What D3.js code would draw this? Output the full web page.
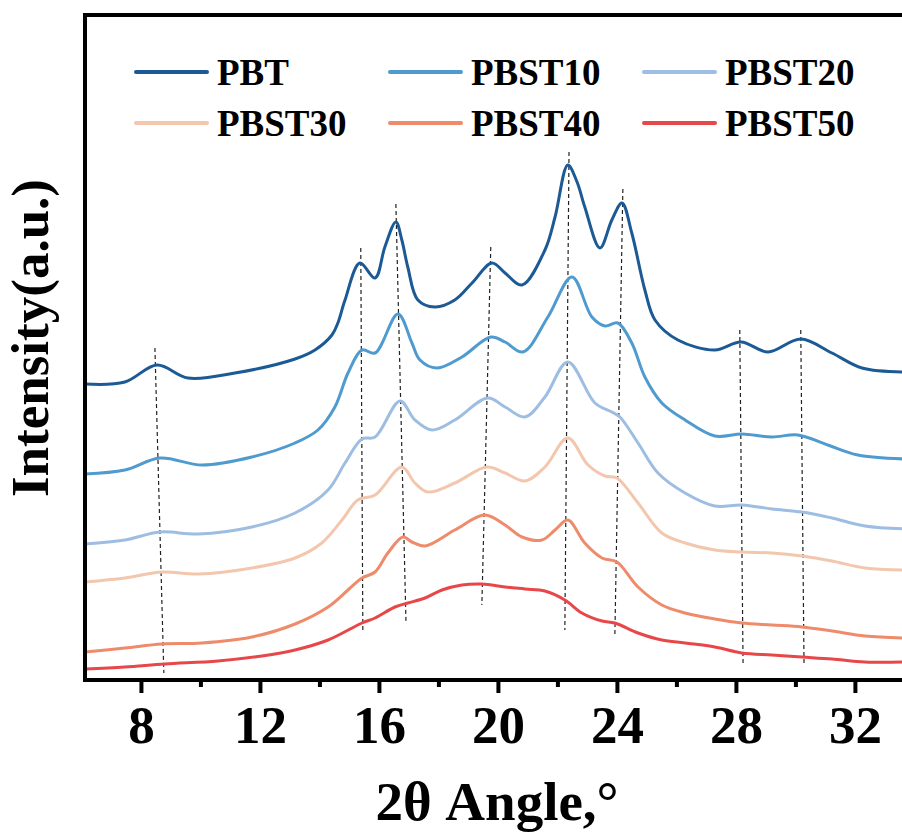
<html>
<head>
  <title>XRD patterns</title>
  <script src="https://d3js.org/d3.v7.min.js"></script>
  <meta charset="utf-8">
</head>

<style>
  body {
    margin: 0;
    background: #fff;
  }

  .axis path {
    display: none;
  }

  .axis line {
    stroke: #000;
    stroke-width: 4;
  }
</style>

<body>
  <div class="chart"></div>

  <script>
    // sample names + colours (legend order)
    var samples = ["PBT", "PBST10", "PBST20", "PBST30", "PBST40", "PBST50"];
    var colors = ["#1c5a96", "#4f9bd0", "#9ebde2", "#f3c6ae", "#ee8b6b", "#e8474a"];

    // 2theta / intensity (a.u., curves already offset)
    var PBT = [[6.12, 296], [7.46, 298], [8.54, 315], [9.58, 302], [11.16, 307], [13.18, 321], [13.85, 330],
      [14.42, 345], [14.62, 357], [14.86, 380], [15.36, 417], [15.87, 402], [16.2, 433], [16.57, 458],
      [16.77, 440], [16.97, 413], [17.31, 380], [17.88, 373], [18.55, 380], [19.13, 397], [19.8, 417],
      [20.24, 407], [20.81, 395], [21.58, 430], [21.92, 463], [22.35, 515], [22.66, 498], [22.92, 473],
      [23.43, 432], [23.83, 460], [24.17, 477], [24.5, 447], [24.94, 390], [25.28, 360], [26.05, 340],
      [27.29, 330], [28.17, 338], [29.08, 328], [30.18, 341], [31.23, 327], [32.24, 312], [33.7, 308]];

    var PBST10 = [[6.12, 206], [7.46, 210], [8.64, 222], [10.05, 215], [11.73, 223], [13.18, 237], [13.95, 250],
      [14.52, 273], [14.96, 307], [15.43, 330], [15.87, 327], [16.64, 366], [17.11, 337], [17.38, 320],
      [17.95, 312], [18.79, 323], [19.76, 343], [20.24, 338], [20.84, 328], [21.68, 363], [22.49, 403],
      [23.16, 363], [23.6, 354], [24.03, 357], [24.5, 337], [24.94, 303], [25.51, 277], [26.29, 260],
      [27.29, 244], [28.2, 246], [29.21, 243], [30.08, 245], [31.09, 235], [32.1, 225], [33.7, 221]];

    var PBST20 = [[6.12, 136], [7.46, 140], [8.64, 148], [9.92, 146], [11.73, 153], [13.18, 167], [14.29, 190],
      [14.86, 217], [15.43, 241], [15.87, 243], [16.71, 279], [17.21, 260], [17.78, 250], [18.55, 260],
      [19.66, 282], [20.24, 273], [20.91, 263], [21.58, 283], [22.35, 318], [23.26, 277], [23.83, 268],
      [24.1, 263], [24.71, 237], [25.38, 207], [26.29, 187], [27.29, 174], [28.2, 175], [29.21, 171],
      [30.22, 168], [31.23, 162], [32.34, 154], [33.7, 151]];

    var PBST30 = [[6.12, 98], [7.46, 102], [8.71, 108], [9.92, 106], [11.73, 112], [13.18, 122], [14.08, 137],
      [14.76, 160], [15.29, 180], [15.87, 185], [16.77, 213], [17.21, 197], [17.65, 188], [18.55, 197],
      [19.63, 213], [20.24, 207], [20.91, 199], [21.58, 213], [22.35, 242], [23.03, 215], [23.6, 204],
      [24.0, 202], [24.71, 177], [25.51, 147], [26.29, 137], [27.29, 130], [28.2, 128], [29.21, 127],
      [30.22, 124], [31.23, 119], [32.34, 112], [33.7, 110]];

    var PBST40 = [[6.12, 28], [7.46, 32], [8.71, 36], [10.05, 37], [11.73, 43], [13.18, 56], [14.29, 73],
      [14.96, 90], [15.43, 102], [15.87, 108], [16.3, 127], [16.81, 143], [17.11, 138], [17.55, 134],
      [18.55, 150], [19.56, 165], [20.24, 155], [20.81, 143], [21.48, 140], [21.92, 150], [22.35, 160],
      [22.92, 137], [23.5, 122], [24.0, 118], [24.71, 93], [25.51, 75], [26.29, 67], [27.29, 61],
      [28.2, 57], [29.21, 55], [30.22, 53], [31.23, 49], [32.34, 44], [33.7, 42]];

    var PBST50 = [[6.12, 11], [7.46, 13], [8.81, 16], [10.59, 19], [12.07, 24], [13.18, 30], [14.29, 40],
      [15.43, 57], [15.87, 62], [16.54, 73], [16.97, 77], [17.55, 82], [18.12, 90], [18.79, 95],
      [19.46, 96], [20.24, 93], [20.91, 91], [21.58, 89], [22.25, 80], [22.82, 67], [23.5, 59],
      [23.93, 57], [24.71, 47], [25.51, 40], [26.29, 37], [27.29, 33], [28.2, 27], [29.21, 25],
      [30.22, 23], [31.23, 21], [32.34, 18], [33.7, 18]];

    var series = [PBT, PBST10, PBST20, PBST30, PBST40, PBST50];

    // dashed peak guides: [2theta top, intensity top, 2theta bottom, intensity bottom]
    var guides = [[8.47, 332, 8.77, 7], [15.39, 432, 15.46, 47], [16.57, 476, 16.91, 58],
      [19.76, 433, 19.46, 75], [22.39, 528, 22.25, 50], [24.2, 491, 23.93, 43],
      [28.13, 350, 28.24, 17], [30.18, 350, 30.29, 15]];

    var majorTicks = [8, 12, 16, 20, 24, 28, 32];
    var minorTicks = [10, 14, 18, 22, 26, 30, 34];

    var W = 902, H = 834;
    var svg = d3.select(".chart").append("svg")
      .attr("width", W)
      .attr("height", H)
      .attr("font-family", "Liberation Serif, Times New Roman, serif");

    var x = d3.scaleLinear().domain([6.12, 34]).range([85, 914.4]);
    var y = d3.scaleLinear().domain([0, 665]).range([680, 15]);

    var serif = "Liberation Serif, Times New Roman, serif";

    // guides first, under the curves
    svg.append("g").selectAll("line")
      .data(guides)
      .enter().append("line")
        .attr("x1", function(d) { return x(d[0]); })
        .attr("y1", function(d) { return y(d[1]); })
        .attr("x2", function(d) { return x(d[2]); })
        .attr("y2", function(d) { return y(d[3]); })
        .style("stroke", "#222")
        .style("stroke-width", 1.2)
        .style("stroke-dasharray", "4,3");

    var line = d3.line()
      .x(function(d) { return x(d[0]); })
      .y(function(d) { return y(d[1]); })
      .curve(d3.curveCatmullRom.alpha(0.5));

    svg.append("g").selectAll("path")
      .data(series)
      .enter().append("path")
        .attr("d", line)
        .style("fill", "none")
        .style("stroke", function(d, i) { return colors[i]; })
        .style("stroke-width", 3)
        .style("stroke-linejoin", "round");

    // frame (left, top, bottom; right side is cut off)
    svg.append("path")
      .attr("d", "M" + W + "," + y(665) + "H" + x(6.12) + "V" + y(0) + "H" + W)
      .style("fill", "none")
      .style("stroke", "#000")
      .style("stroke-width", 4);

    // x axis ticks
    svg.append("g")
      .attr("class", "axis")
      .attr("transform", "translate(0," + y(0) + ")")
      .call(d3.axisBottom(x).tickValues(majorTicks).tickSize(13).tickPadding(12).tickFormat(d3.format("d")))
      .selectAll("text")
        .style("font-family", serif)
        .style("font-weight", "bold")
        .style("font-size", "53px")
        .style("fill", "#000");

    svg.append("g")
      .attr("class", "axis")
      .attr("transform", "translate(0," + y(0) + ")")
      .call(d3.axisBottom(x).tickValues(minorTicks).tickSize(7).tickFormat(""));

    // axis titles
    svg.append("text")
      .attr("x", 497)
      .attr("y", 820)
      .style("text-anchor", "middle")
      .style("font-family", serif)
      .style("font-weight", "bold")
      .style("font-size", "55px")
      .text("2θ Angle,°");

    svg.append("text")
      .attr("transform", "translate(48,338) rotate(-90)")
      .style("text-anchor", "middle")
      .style("font-family", serif)
      .style("font-weight", "bold")
      .style("font-size", "53px")
      .text("Intensity(a.u.)");

    // legend, 3 columns x 2 rows
    var legend = svg.append("g").selectAll("g")
      .data(samples)
      .enter().append("g")
        .attr("transform", function(d, i) {
          return "translate(" + (136 + (i % 3) * 254) + "," + (72 + Math.floor(i / 3) * 51) + ")";
        });

    legend.append("line")
      .attr("x1", 0)
      .attr("x2", 71)
      .style("stroke", function(d, i) { return colors[i]; })
      .style("stroke-width", 4)
      .style("stroke-linecap", "round");

    legend.append("text")
      .attr("x", 81)
      .attr("y", 13)
      .style("font-family", serif)
      .style("font-weight", "bold")
      .style("font-size", "37px")
      .text(function(d) { return d; });
  </script>

</body>
</html>
